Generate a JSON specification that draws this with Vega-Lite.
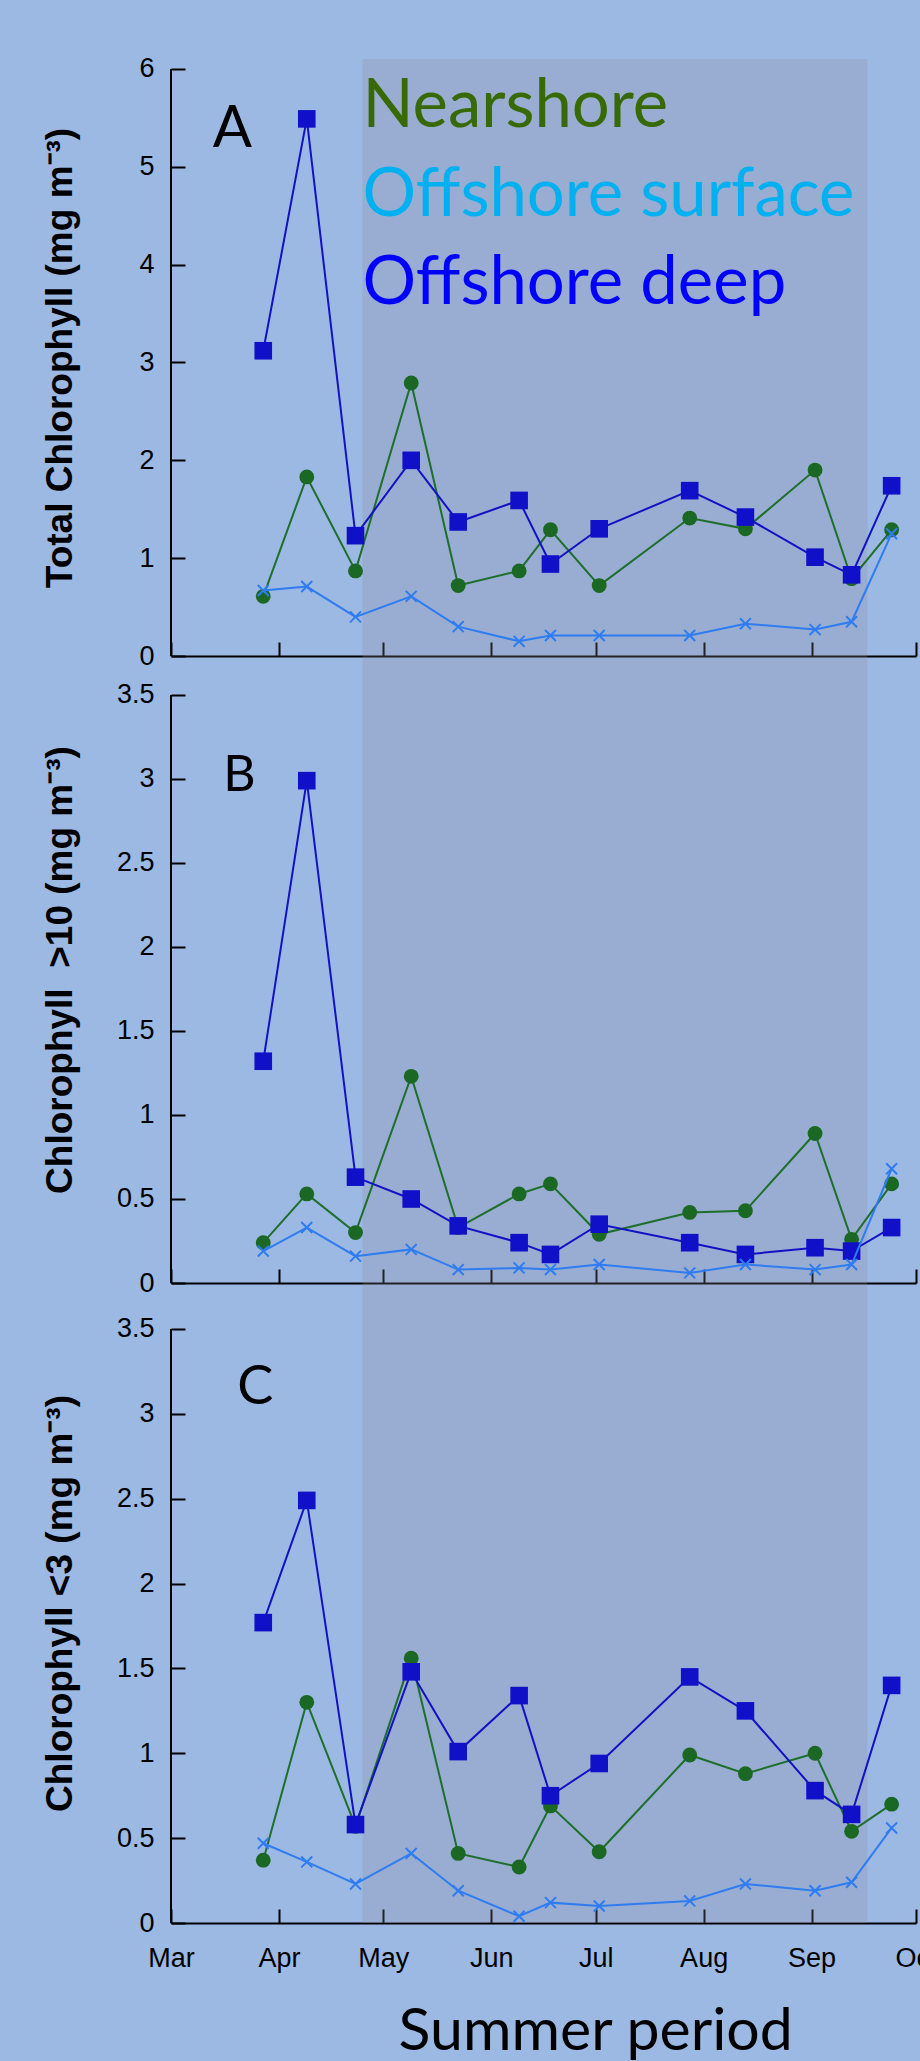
{
  "$schema": "https://vega.github.io/schema/vega-lite/v6.json",
  "background": "#9CB9E3",
  "padding": {"left": 41, "top": 54, "right": 0, "bottom": 0},
  "autosize": {"type": "pad"},
  "spacing": 0,
  "bounds": "flush",
  "datasets": {
    "one": [{}],
    "A_near": [{"date":"2010-03-27T12:00","value":0.61},{"date":"2010-04-09T00:00","value":1.83},{"date":"2010-04-23T00:00","value":0.87},{"date":"2010-05-09T00:00","value":2.79},{"date":"2010-05-22T12:00","value":0.72},{"date":"2010-06-09T00:00","value":0.87},{"date":"2010-06-18T00:00","value":1.29},{"date":"2010-07-02T00:00","value":0.72},{"date":"2010-07-28T00:00","value":1.41},{"date":"2010-08-13T00:00","value":1.30},{"date":"2010-09-02T00:00","value":1.90},{"date":"2010-09-12T12:00","value":0.79},{"date":"2010-09-24T00:00","value":1.29}],
    "A_surf": [{"date":"2010-03-27T12:00","value":0.67},{"date":"2010-04-09T00:00","value":0.71},{"date":"2010-04-23T00:00","value":0.40},{"date":"2010-05-09T00:00","value":0.61},{"date":"2010-05-22T12:00","value":0.30},{"date":"2010-06-09T00:00","value":0.15},{"date":"2010-06-18T00:00","value":0.21},{"date":"2010-07-02T00:00","value":0.21},{"date":"2010-07-28T00:00","value":0.21},{"date":"2010-08-13T00:00","value":0.33},{"date":"2010-09-02T00:00","value":0.27},{"date":"2010-09-12T12:00","value":0.35},{"date":"2010-09-24T00:00","value":1.25}],
    "A_deep": [{"date":"2010-03-27T12:00","value":3.12},{"date":"2010-04-09T00:00","value":5.49},{"date":"2010-04-23T00:00","value":1.23},{"date":"2010-05-09T00:00","value":2.00},{"date":"2010-05-22T12:00","value":1.37},{"date":"2010-06-09T00:00","value":1.59},{"date":"2010-06-18T00:00","value":0.94},{"date":"2010-07-02T00:00","value":1.30},{"date":"2010-07-28T00:00","value":1.69},{"date":"2010-08-13T00:00","value":1.42},{"date":"2010-09-02T00:00","value":1.01},{"date":"2010-09-12T12:00","value":0.83},{"date":"2010-09-24T00:00","value":1.74}],
    "B_near": [{"date":"2010-03-27T12:00","value":0.24},{"date":"2010-04-09T00:00","value":0.53},{"date":"2010-04-23T00:00","value":0.30},{"date":"2010-05-09T00:00","value":1.23},{"date":"2010-05-22T12:00","value":0.33},{"date":"2010-06-09T00:00","value":0.53},{"date":"2010-06-18T00:00","value":0.59},{"date":"2010-07-02T00:00","value":0.29},{"date":"2010-07-28T00:00","value":0.42},{"date":"2010-08-13T00:00","value":0.43},{"date":"2010-09-02T00:00","value":0.89},{"date":"2010-09-12T12:00","value":0.26},{"date":"2010-09-24T00:00","value":0.59}],
    "B_surf": [{"date":"2010-03-27T12:00","value":0.19},{"date":"2010-04-09T00:00","value":0.33},{"date":"2010-04-23T00:00","value":0.16},{"date":"2010-05-09T00:00","value":0.20},{"date":"2010-05-22T12:00","value":0.08},{"date":"2010-06-09T00:00","value":0.09},{"date":"2010-06-18T00:00","value":0.08},{"date":"2010-07-02T00:00","value":0.11},{"date":"2010-07-28T00:00","value":0.06},{"date":"2010-08-13T00:00","value":0.11},{"date":"2010-09-02T00:00","value":0.08},{"date":"2010-09-12T12:00","value":0.11},{"date":"2010-09-24T00:00","value":0.68}],
    "B_deep": [{"date":"2010-03-27T12:00","value":1.32},{"date":"2010-04-09T00:00","value":2.99},{"date":"2010-04-23T00:00","value":0.63},{"date":"2010-05-09T00:00","value":0.50},{"date":"2010-05-22T12:00","value":0.34},{"date":"2010-06-09T00:00","value":0.24},{"date":"2010-06-18T00:00","value":0.17},{"date":"2010-07-02T00:00","value":0.35},{"date":"2010-07-28T00:00","value":0.24},{"date":"2010-08-13T00:00","value":0.17},{"date":"2010-09-02T00:00","value":0.21},{"date":"2010-09-12T12:00","value":0.19},{"date":"2010-09-24T00:00","value":0.33}],
    "C_near": [{"date":"2010-03-27T12:00","value":0.37},{"date":"2010-04-09T00:00","value":1.30},{"date":"2010-04-23T00:00","value":0.57},{"date":"2010-05-09T00:00","value":1.56},{"date":"2010-05-22T12:00","value":0.41},{"date":"2010-06-09T00:00","value":0.33},{"date":"2010-06-18T00:00","value":0.69},{"date":"2010-07-02T00:00","value":0.42},{"date":"2010-07-28T00:00","value":0.99},{"date":"2010-08-13T00:00","value":0.88},{"date":"2010-09-02T00:00","value":1.00},{"date":"2010-09-12T12:00","value":0.54},{"date":"2010-09-24T00:00","value":0.70}],
    "C_surf": [{"date":"2010-03-27T12:00","value":0.47},{"date":"2010-04-09T00:00","value":0.36},{"date":"2010-04-23T00:00","value":0.23},{"date":"2010-05-09T00:00","value":0.41},{"date":"2010-05-22T12:00","value":0.19},{"date":"2010-06-09T00:00","value":0.04},{"date":"2010-06-18T00:00","value":0.12},{"date":"2010-07-02T00:00","value":0.10},{"date":"2010-07-28T00:00","value":0.13},{"date":"2010-08-13T00:00","value":0.23},{"date":"2010-09-02T00:00","value":0.19},{"date":"2010-09-12T12:00","value":0.24},{"date":"2010-09-24T00:00","value":0.56}],
    "C_deep": [{"date":"2010-03-27T12:00","value":1.77},{"date":"2010-04-09T00:00","value":2.49},{"date":"2010-04-23T00:00","value":0.58},{"date":"2010-05-09T00:00","value":1.48},{"date":"2010-05-22T12:00","value":1.01},{"date":"2010-06-09T00:00","value":1.34},{"date":"2010-06-18T00:00","value":0.75},{"date":"2010-07-02T00:00","value":0.94},{"date":"2010-07-28T00:00","value":1.45},{"date":"2010-08-13T00:00","value":1.25},{"date":"2010-09-02T00:00","value":0.78},{"date":"2010-09-12T12:00","value":0.64},{"date":"2010-09-24T00:00","value":1.40}]
  },
  "vconcat": [
    {
      "width": 745, "height": 597,
      "layer": [
        {"data": {"name": "one"},
         "mark": {"type": "rect", "fill": "#8A8C9A", "opacity": 0.25},
         "encoding": {
           "x": {"datum": {"year": 2010, "month": 4, "date": 25}, "type": "temporal",
                 "scale": {"domain": [{"year": 2010, "month": 3, "date": 1}, {"year": 2010, "month": 10, "date": 1}], "nice": false},
                 "axis": {"values": [{"year":2010,"month":3,"date":1},{"year":2010,"month":4,"date":1},{"year":2010,"month":5,"date":1},{"year":2010,"month":6,"date":1},{"year":2010,"month":7,"date":1},{"year":2010,"month":8,"date":1},{"year":2010,"month":9,"date":1},{"year":2010,"month":10,"date":1}], "labels": false, "title": null}},
           "x2": {"datum": {"year": 2010, "month": 9, "date": 17}}}},
        {"data": {"name": "A_near"},
         "mark": {"type": "line", "color": "#1E6E2C", "strokeWidth": 2, "point": {"shape": "circle", "filled": true, "size": 220, "color": "#1A6824", "opacity": 1}},
         "encoding": {
           "x": {"field": "date", "type": "temporal"},
           "y": {"field": "value", "type": "quantitative", "scale": {"domain": [0, 6.102], "nice": false},
                 "axis": {"values": [0, 1, 2, 3, 4, 5, 6], "format": "d", "domain": false, "labelPadding": 31, "minExtent": 57, "maxExtent": 57, "titlePadding": 35, "title": "Total Chlorophyll (mg m⁻³)"}}}},
        {"data": {"name": "A_deep"},
         "mark": {"type": "line", "color": "#1212C4", "strokeWidth": 2, "point": {"shape": "square", "filled": true, "size": 310, "color": "#1010C8", "opacity": 1}},
         "encoding": {"x": {"field": "date", "type": "temporal"}, "y": {"field": "value", "type": "quantitative"}}},
        {"data": {"name": "A_surf"},
         "mark": {"type": "line", "color": "#2F7CF0", "strokeWidth": 2, "point": {"shape": "M-1,-1L1,1M1,-1L-1,1", "filled": false, "size": 120, "strokeWidth": 2, "color": "#2F7CF0", "opacity": 1}},
         "encoding": {"x": {"field": "date", "type": "temporal"}, "y": {"field": "value", "type": "quantitative"}}},
        {"data": {"name": "one"},
         "mark": {"type": "rule", "color": "black", "strokeWidth": 2},
         "encoding": {"x": {"datum": {"year": 2010, "month": 3, "date": 1}}, "y": {"datum": 0}, "y2": {"datum": 6}}},
        {"data": {"name": "one"},
         "mark": {"type": "text", "text": "A", "font": "Lato", "fontSize": 58, "align": "left", "baseline": "alphabetic", "color": "black"},
         "encoding": {"x": {"datum": {"year": 2010, "month": 3, "date": 13}}, "y": {"datum": 5.2}}},
        {"data": {"name": "one"},
         "mark": {"type": "text", "text": "Nearshore", "font": "Lato", "fontSize": 67, "align": "left", "baseline": "alphabetic", "color": "#376A05"},
         "encoding": {"x": {"datum": {"year": 2010, "month": 4, "date": 25}}, "y": {"datum": 5.41}}},
        {"data": {"name": "one"},
         "mark": {"type": "text", "text": "Offshore surface", "font": "Lato", "fontSize": 67, "align": "left", "baseline": "alphabetic", "color": "#00B0F0"},
         "encoding": {"x": {"datum": {"year": 2010, "month": 4, "date": 25}}, "y": {"datum": 4.5}}},
        {"data": {"name": "one"},
         "mark": {"type": "text", "text": "Offshore deep", "font": "Lato", "fontSize": 67, "align": "left", "baseline": "alphabetic", "color": "#0000FF"},
         "encoding": {"x": {"datum": {"year": 2010, "month": 4, "date": 25}}, "y": {"datum": 3.6}}}
      ]
    },
    {
      "width": 745, "height": 627,
      "layer": [
        {"data": {"name": "one"},
         "mark": {"type": "rect", "fill": "#8A8C9A", "opacity": 0.25},
         "encoding": {
           "x": {"datum": {"year": 2010, "month": 4, "date": 25}, "type": "temporal",
                 "scale": {"domain": [{"year": 2010, "month": 3, "date": 1}, {"year": 2010, "month": 10, "date": 1}], "nice": false},
                 "axis": {"values": [{"year":2010,"month":3,"date":1},{"year":2010,"month":4,"date":1},{"year":2010,"month":5,"date":1},{"year":2010,"month":6,"date":1},{"year":2010,"month":7,"date":1},{"year":2010,"month":8,"date":1},{"year":2010,"month":9,"date":1},{"year":2010,"month":10,"date":1}], "labels": false, "title": null}},
           "x2": {"datum": {"year": 2010, "month": 9, "date": 17}}}},
        {"data": {"name": "B_near"},
         "mark": {"type": "line", "color": "#1E6E2C", "strokeWidth": 2, "point": {"shape": "circle", "filled": true, "size": 220, "color": "#1A6824", "opacity": 1}},
         "encoding": {
           "x": {"field": "date", "type": "temporal"},
           "y": {"field": "value", "type": "quantitative", "scale": {"domain": [0, 3.732], "nice": false},
                 "axis": {"values": [0, 0.5, 1, 1.5, 2, 2.5, 3, 3.5], "format": ".1~f", "domain": false, "labelPadding": 31, "minExtent": 57, "maxExtent": 57, "titlePadding": 35, "title": "Chlorophyll \u00a0>10 (mg m⁻³)"}}}},
        {"data": {"name": "B_deep"},
         "mark": {"type": "line", "color": "#1212C4", "strokeWidth": 2, "point": {"shape": "square", "filled": true, "size": 310, "color": "#1010C8", "opacity": 1}},
         "encoding": {"x": {"field": "date", "type": "temporal"}, "y": {"field": "value", "type": "quantitative"}}},
        {"data": {"name": "B_surf"},
         "mark": {"type": "line", "color": "#2F7CF0", "strokeWidth": 2, "point": {"shape": "M-1,-1L1,1M1,-1L-1,1", "filled": false, "size": 120, "strokeWidth": 2, "color": "#2F7CF0", "opacity": 1}},
         "encoding": {"x": {"field": "date", "type": "temporal"}, "y": {"field": "value", "type": "quantitative"}}},
        {"data": {"name": "one"},
         "mark": {"type": "rule", "color": "black", "strokeWidth": 2},
         "encoding": {"x": {"datum": {"year": 2010, "month": 3, "date": 1}}, "y": {"datum": 0}, "y2": {"datum": 3.5}}},
        {"data": {"name": "one"},
         "mark": {"type": "text", "text": "B", "font": "Lato", "fontSize": 50, "align": "left", "baseline": "alphabetic", "color": "black"},
         "encoding": {"x": {"datum": {"year": 2010, "month": 3, "date": 16}}, "y": {"datum": 2.93}}}
      ]
    },
    {
      "width": 745, "height": 640,
      "layer": [
        {"data": {"name": "one"},
         "mark": {"type": "rect", "fill": "#8A8C9A", "opacity": 0.25},
         "encoding": {
           "x": {"datum": {"year": 2010, "month": 4, "date": 25}, "type": "temporal",
                 "scale": {"domain": [{"year": 2010, "month": 3, "date": 1}, {"year": 2010, "month": 10, "date": 1}], "nice": false},
                 "axis": {"values": [{"year":2010,"month":3,"date":1},{"year":2010,"month":4,"date":1},{"year":2010,"month":5,"date":1},{"year":2010,"month":6,"date":1},{"year":2010,"month":7,"date":1},{"year":2010,"month":8,"date":1},{"year":2010,"month":9,"date":1},{"year":2010,"month":10,"date":1}], "format": "%b", "labelFlush": false, "labelOverlap": false, "labelPadding": 36, "title": null}},
           "x2": {"datum": {"year": 2010, "month": 9, "date": 17}}}},
        {"data": {"name": "C_near"},
         "mark": {"type": "line", "color": "#1E6E2C", "strokeWidth": 2, "point": {"shape": "circle", "filled": true, "size": 220, "color": "#1A6824", "opacity": 1}},
         "encoding": {
           "x": {"field": "date", "type": "temporal"},
           "y": {"field": "value", "type": "quantitative", "scale": {"domain": [0, 3.771], "nice": false},
                 "axis": {"values": [0, 0.5, 1, 1.5, 2, 2.5, 3, 3.5], "format": ".1~f", "domain": false, "labelPadding": 31, "minExtent": 57, "maxExtent": 57, "titlePadding": 35, "title": "Chlorophyll <3 (mg m⁻³)"}}}},
        {"data": {"name": "C_deep"},
         "mark": {"type": "line", "color": "#1212C4", "strokeWidth": 2, "point": {"shape": "square", "filled": true, "size": 310, "color": "#1010C8", "opacity": 1}},
         "encoding": {"x": {"field": "date", "type": "temporal"}, "y": {"field": "value", "type": "quantitative"}}},
        {"data": {"name": "C_surf"},
         "mark": {"type": "line", "color": "#2F7CF0", "strokeWidth": 2, "point": {"shape": "M-1,-1L1,1M1,-1L-1,1", "filled": false, "size": 120, "strokeWidth": 2, "color": "#2F7CF0", "opacity": 1}},
         "encoding": {"x": {"field": "date", "type": "temporal"}, "y": {"field": "value", "type": "quantitative"}}},
        {"data": {"name": "one"},
         "mark": {"type": "rule", "color": "black", "strokeWidth": 2},
         "encoding": {"x": {"datum": {"year": 2010, "month": 3, "date": 1}}, "y": {"datum": 0}, "y2": {"datum": 3.5}}},
        {"data": {"name": "one"},
         "mark": {"type": "text", "text": "C", "font": "Lato", "fontSize": 54, "align": "left", "baseline": "alphabetic", "color": "black"},
         "encoding": {"x": {"datum": {"year": 2010, "month": 3, "date": 20}}, "y": {"datum": 3.06}}},
        {"data": {"name": "one"},
         "mark": {"type": "text", "text": "Summer period", "font": "Lato", "fontSize": 59, "align": "center", "baseline": "alphabetic", "color": "black"},
         "encoding": {"x": {"datum": {"year": 2010, "month": 7, "date": 1}}, "y": {"datum": -0.75}}}
      ]
    }
  ],
  "config": {
    "view": {"stroke": null},
    "axis": {"grid": false, "domainColor": "black", "tickColor": "black", "labelColor": "black", "titleColor": "black", "domainWidth": 2, "tickWidth": 2, "tickSize": -14, "labelFont": "Liberation Sans", "labelFontSize": 27, "titleFont": "Liberation Sans", "titleFontSize": 37, "titleFontWeight": "bold"}
  }
}
